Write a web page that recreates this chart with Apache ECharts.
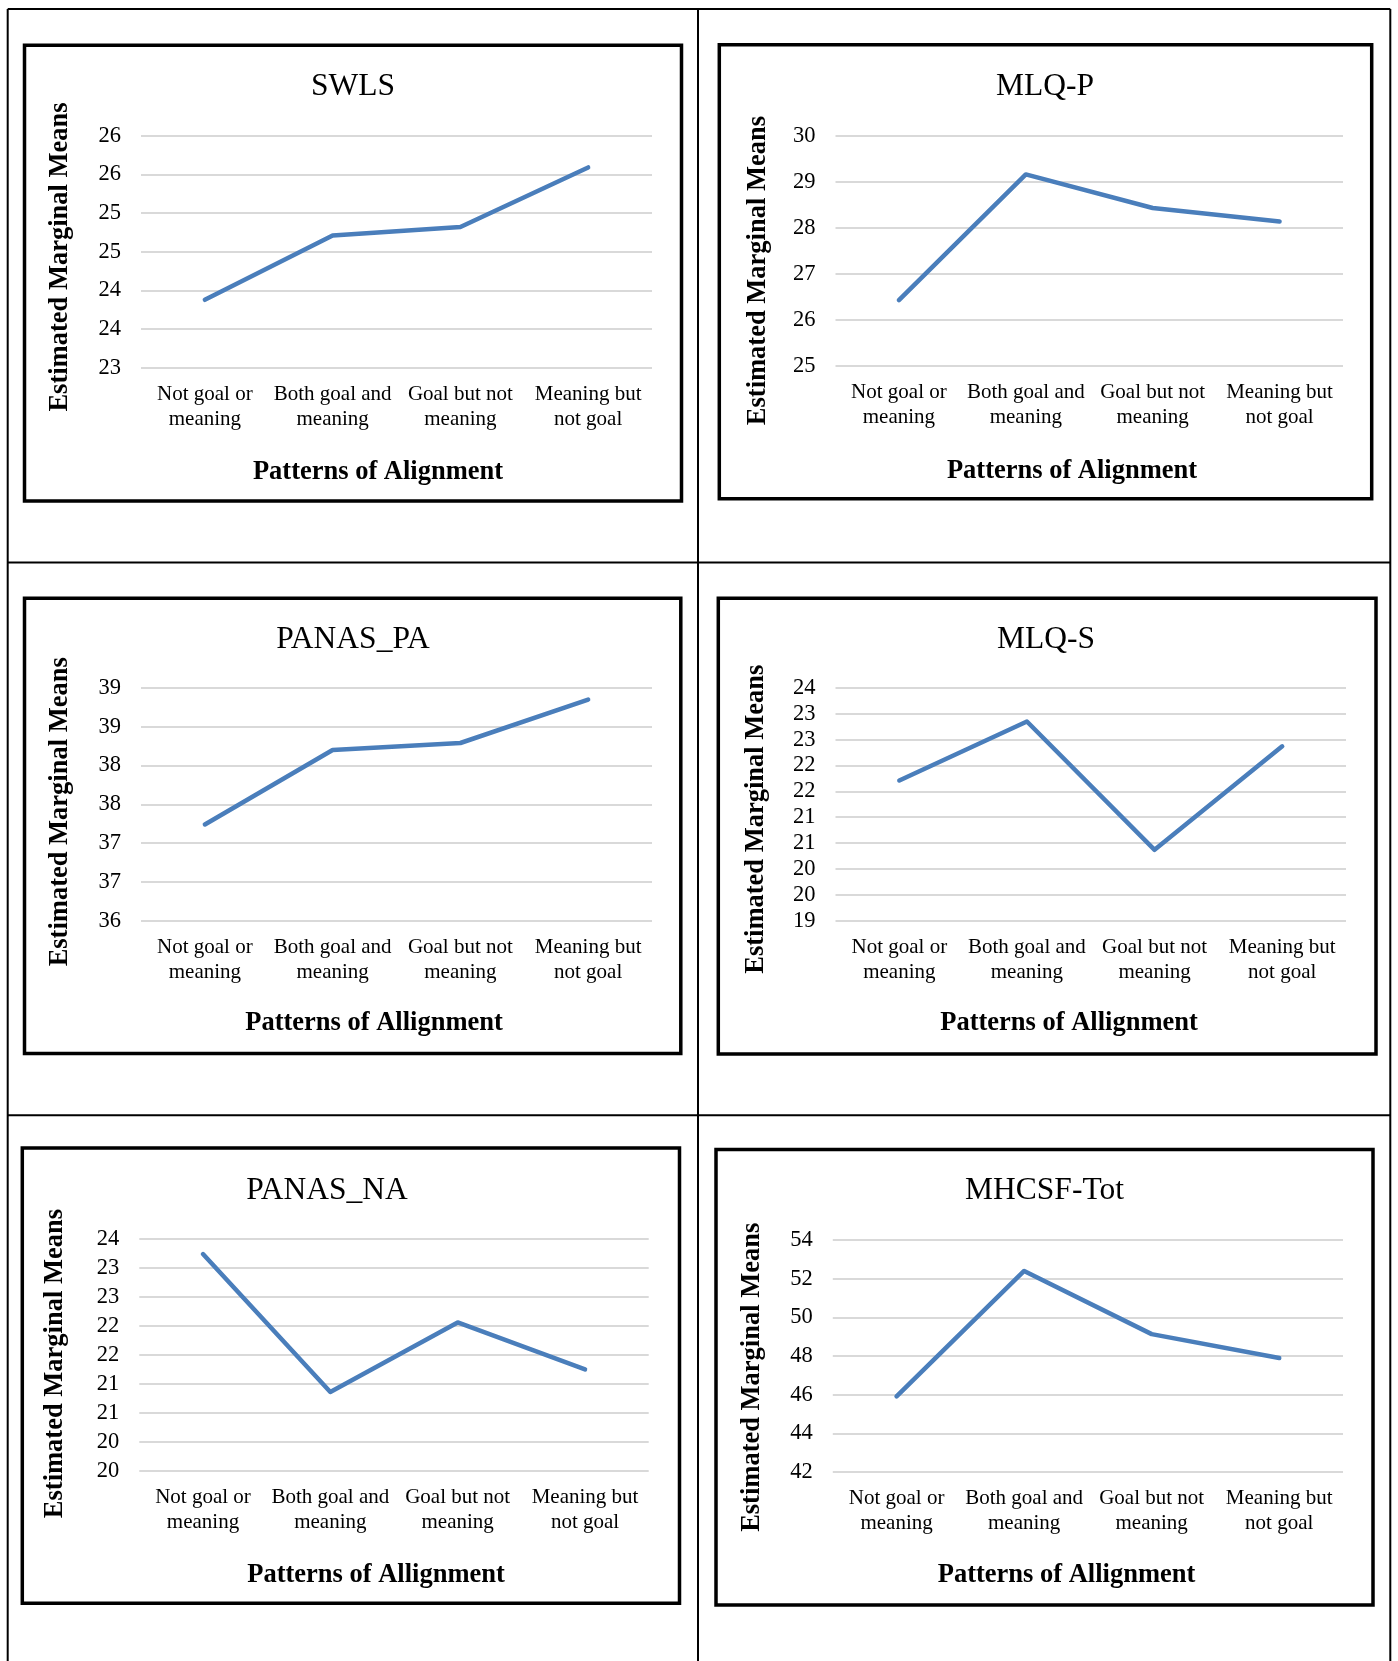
<!DOCTYPE html>
<html>
<head>
<meta charset="utf-8">
<title>Estimated Marginal Means by Patterns of Alignment</title>
<script src="https://cdn.jsdelivr.net/npm/echarts@6/dist/echarts.min.js"></script>
<style>
  html, body { margin: 0; padding: 0; background: #ffffff; }
  #chart { width: 1398px; height: 1661px; }
</style>
</head>
<body>
<div id="chart"></div>
<script>
// Pattern categories shared by every panel
const categories = [
  'Not goal or\nmeaning',
  'Both goal and\nmeaning',
  'Goal but not\nmeaning',
  'Meaning but\nnot goal'
];

// Estimated marginal means per outcome measure
const swls     = [23.88, 24.71, 24.82, 25.59];
const mlqP     = [26.43, 29.16, 28.43, 28.14];
const panasPA  = [37.24, 38.20, 38.29, 38.85];
const mlqS     = [21.71, 22.85, 20.37, 22.37];
const panasNA  = [23.24, 20.86, 22.06, 21.25];
const mhcsfTot = [45.91, 52.40, 49.13, 47.89];

// Panel texts
const panelTitles = ['SWLS', 'MLQ-P', 'PANAS_PA', 'MLQ-S', 'PANAS_NA', 'MHCSF-Tot'];
const xTitles = [
  'Patterns of Alignment', 'Patterns of Alignment',
  'Patterns of Allignment', 'Patterns of Allignment',
  'Patterns of Allignment', 'Patterns of Allignment'
];
const yTitle = 'Estimated Marginal Means';

// Value-axis ranges (tick labels are shown rounded to whole numbers)
const yMin  = [23, 25, 36, 19, 19.5, 42];
const yMax  = [26, 30, 39, 23.5, 23.5, 54];
const yStep = [0.5, 1, 0.5, 0.5, 0.5, 2];

const seriesData = [swls, mlqP, panasPA, mlqS, panasNA, mhcsfTot];

// Page geometry for each panel: plot area, outer frame and text anchors
const layout = [
  { grid: [141, 135.7, 511, 232.2],     frame: [24.5, 45.3, 657, 455.7],    title: [353, 87],     xt: [378, 472.5],  yt: [60.5, 257] },
  { grid: [835.5, 135.7, 507.5, 230.4], frame: [719.3, 44.7, 652.4, 454.1], title: [1045, 87],    xt: [1072, 471.6], yt: [758.5, 270.6] },
  { grid: [141, 687.9, 511, 232.8],     frame: [24.5, 598.3, 656.3, 455.2], title: [353, 639.7],  xt: [374, 1023.6], yt: [60.5, 811.8] },
  { grid: [835.5, 687.9, 510.5, 232.8], frame: [718.3, 598.3, 657.7, 455.7], title: [1046, 639.7], xt: [1069, 1023.6], yt: [756.3, 819.2] },
  { grid: [139.3, 1239, 509.4, 231.9],  frame: [22.3, 1148, 657.2, 455.3],  title: [327, 1191],   xt: [376, 1574.9], yt: [55.2, 1363.6] },
  { grid: [832.8, 1240, 510.2, 231.9],  frame: [716, 1149.4, 657, 455.6],   title: [1044.5, 1191], xt: [1066.5, 1575], yt: [752, 1377.3] }
];

const SERIF = '"Liberation Serif", "Times New Roman", serif';
const LINE_COLOR = '#4a7ebb';

const grids = [], xAxes = [], yAxes = [], series = [], graphics = [];

layout.forEach(function (p, i) {
  grids.push({ left: p.grid[0], top: p.grid[1], width: p.grid[2], height: p.grid[3], containLabel: false });

  xAxes.push({
    type: 'category', gridIndex: i, data: categories, boundaryGap: true,
    axisLine: { show: false }, axisTick: { show: false }, splitLine: { show: false },
    axisLabel: {
      interval: 0, margin: 14, color: '#000',
      fontFamily: SERIF, fontSize: 21, lineHeight: 25
    }
  });

  yAxes.push({
    type: 'value', gridIndex: i, min: yMin[i], max: yMax[i], interval: yStep[i],
    axisLine: { show: false }, axisTick: { show: false },
    splitLine: { show: true, lineStyle: { color: '#d9d9d9', width: 2 } },
    axisLabel: {
      margin: 20, color: '#000', fontFamily: SERIF, fontSize: 22.5,
      padding: [4, 0, 0, 0],
      formatter: function (v) { return String(Math.round(v)); }
    }
  });

  series.push({
    type: 'line', xAxisIndex: i, yAxisIndex: i, data: seriesData[i],
    showSymbol: false, symbol: 'none', silent: true, animation: false,
    lineStyle: { color: LINE_COLOR, width: 4.5, cap: 'round', join: 'round' }
  });

  // Chart frame
  graphics.push({
    type: 'rect', silent: true, z: 10,
    shape: { x: p.frame[0], y: p.frame[1], width: p.frame[2], height: p.frame[3] },
    style: { fill: 'none', stroke: '#000', lineWidth: 3.5 }
  });
  // Chart title
  graphics.push({
    type: 'text', x: p.title[0], y: p.title[1], z: 10,
    style: { text: panelTitles[i], font: '31.5px ' + SERIF, fill: '#000', align: 'center', verticalAlign: 'middle' }
  });
  // Category axis title
  graphics.push({
    type: 'text', x: p.xt[0], y: p.xt[1], z: 10,
    style: { text: xTitles[i], font: 'bold 26.5px ' + SERIF, fill: '#000', align: 'center', verticalAlign: 'middle' }
  });
  // Value axis title
  graphics.push({
    type: 'text', x: p.yt[0], y: p.yt[1], rotation: Math.PI / 2, z: 10,
    style: { text: yTitle, font: 'bold 26.5px ' + SERIF, fill: '#000', align: 'center', verticalAlign: 'middle' }
  });
});

// Surrounding table rules
const tableLines = [
  [7.7, 9, 1390.3, 9],
  [7.7, 9, 7.7, 1661],
  [1390.3, 9, 1390.3, 1661],
  [698, 9, 698, 1661],
  [7.7, 562.5, 1390.3, 562.5],
  [7.7, 1115.3, 1390.3, 1115.3]
];
tableLines.forEach(function (l) {
  graphics.push({
    type: 'line', silent: true, z: 5,
    shape: { x1: l[0], y1: l[1], x2: l[2], y2: l[3] },
    style: { stroke: '#000', lineWidth: 2 }
  });
});

const chart = echarts.init(document.getElementById('chart'), null, { renderer: 'canvas', width: 1398, height: 1661 });
chart.setOption({
  backgroundColor: '#ffffff',
  animation: false,
  grid: grids,
  xAxis: xAxes,
  yAxis: yAxes,
  series: series,
  graphic: graphics
});
</script>
</body>
</html>
